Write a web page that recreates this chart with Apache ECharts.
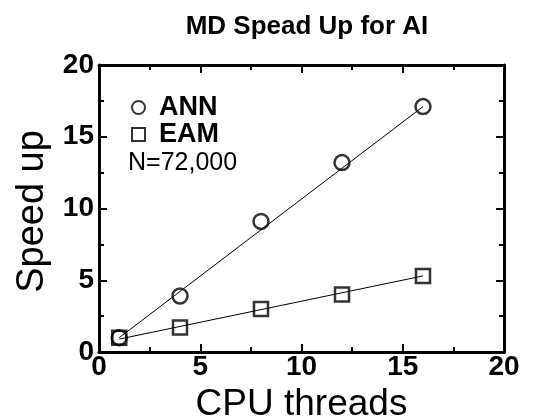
<!DOCTYPE html>
<html lang="en">
	<head>
		<meta charset="UTF-8" />
		<title>MD Spead Up for AI</title>
		<script src="https://cdn.jsdelivr.net/npm/echarts@6.0.0/dist/echarts.min.js"></script>
	</head>
	<body style="margin: 0">
		<div id="main" style="width: 540px; height: 416px"></div>
		<script type="text/javascript">
			// values
			const threads = [1, 4, 8, 12, 16];
			const annSpeedup = [1.0, 3.9, 9.1, 13.2, 17.1];
			const eamSpeedup = [1.0, 1.7, 3.0, 4.0, 5.3];
			// straight fit lines (end points)
			const fitX = [1, 16];
			const annFit = [1.0, 17.1];
			const eamFit = [0.9, 5.3];
			const ticks = [0, 5, 10, 15, 20];

			const pairs = (xs, ys) => xs.map((x, i) => [x, ys[i]]);

			const sans = "Liberation Sans, Arial, sans-serif";

			// one axis (fresh object each call), all four sides look the same
			function axis(position, showLabel) {
				return {
					type: "value",
					position: position,
					min: ticks[0],
					max: ticks[ticks.length - 1],
					interval: ticks[1] - ticks[0],
					axisLine: { show: true, onZero: false, lineStyle: { color: "#000", width: 3 } },
					axisTick: { show: true, inside: true, length: 8, lineStyle: { color: "#000", width: 2 } },
					minorTick: { show: true, splitNumber: 2, length: 5, lineStyle: { color: "#000", width: 2 } },
					splitLine: { show: false },
					minorSplitLine: { show: false },
					axisLabel: {
						show: showLabel,
						color: "#000",
						fontFamily: sans,
						fontWeight: "bold",
						fontSize: 28,
						margin: position == "bottom" ? 1 : 5,
					},
				};
			}

			let xMain = axis("bottom", true);
			xMain.name = "CPU threads";
			xMain.nameLocation = "middle";
			xMain.nameGap = 34;
			xMain.nameTextStyle = { fontFamily: sans, fontSize: 37, color: "#000" };

			let yMain = axis("left", true);
			yMain.name = "Speed up";
			yMain.nameLocation = "middle";
			yMain.nameGap = 44;
			yMain.nameTextStyle = { fontFamily: sans, fontSize: 38, color: "#000", padding: [0, 6, 0, 0] };

			const markerStyle = { color: "rgba(255,255,255,0)", borderColor: "#000", borderWidth: 2.5 };

			let options = {
				backgroundColor: "#fff",
				animation: false,
				title: {
					text: "MD Spead Up for AI",
					left: 302,
					textAlign: "center",
					top: 9,
					textStyle: { fontFamily: sans, fontWeight: "bold", fontSize: 26, color: "#000" },
				},
				legend: {
					orient: "vertical",
					left: 126,
					top: 89,
					itemWidth: 13,
					itemHeight: 13,
					itemGap: 0,
					data: ["ANN", "EAM"],
					textStyle: { fontFamily: sans, fontWeight: "bold", fontSize: 27, color: "#000", padding: [0, 0, 0, 9] },
				},
				graphic: [
					{
						type: "text",
						left: 128,
						top: 151,
						style: { text: "N=72,000", font: "25px 'Liberation Sans', Arial, sans-serif", fill: "#000" },
					},
				],
				grid: { left: 99, right: 36, top: 65, bottom: 64, outerBoundsMode: "none" },
				xAxis: [xMain, axis("top", false)],
				yAxis: [yMain, axis("right", false)],
				series: [
					{
						name: "annFit",
						type: "line",
						data: pairs(fitX, annFit),
						symbol: "none",
						lineStyle: { color: "#000", width: 1 },
						z: 1,
					},
					{
						name: "eamFit",
						type: "line",
						data: pairs(fitX, eamFit),
						symbol: "none",
						lineStyle: { color: "#000", width: 1 },
						z: 1,
					},
					{
						name: "ANN",
						type: "scatter",
						data: pairs(threads, annSpeedup),
						symbol: "circle",
						symbolSize: 15,
						itemStyle: markerStyle,
						z: 3,
					},
					{
						name: "EAM",
						type: "scatter",
						data: pairs(threads, eamSpeedup),
						symbol: "rect",
						symbolSize: 14,
						itemStyle: markerStyle,
						z: 3,
					},
				],
			};

			let myChart = echarts.init(document.getElementById("main"));
			myChart.setOption(options);
		</script>
	</body>
</html>
